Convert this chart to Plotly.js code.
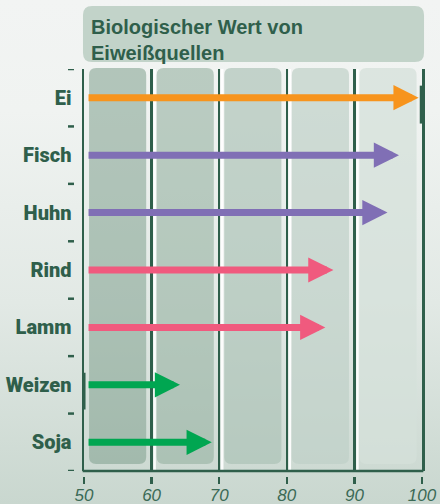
<!DOCTYPE html>
<html>
<head>
<meta charset="utf-8">
<script src="https://cdn.plot.ly/plotly-3.0.1.min.js"></script>
<style>
  html, body { margin: 0; padding: 0; }
  #chart {
    width: 440px; height: 504px;
    background: linear-gradient(to bottom, #f2f4f3 0%, #f0f3f1 22%, #e2e9e5 60%, #c9d7cf 100%);
  }
</style>
</head>
<body>
<div id="chart"></div>
<script>
// ---- data ----
const categories = ['Ei', 'Fisch', 'Huhn', 'Rind', 'Lamm', 'Weizen', 'Soja'];
const values = [99.5, 96.6, 94.9, 86.9, 85.7, 64.2, 68.9];
const arrowColors = ['#f7941d', '#806fb5', '#806fb5', '#f05a7e', '#f05a7e', '#00a651', '#00a651'];
const xTicks = [50, 60, 70, 80, 90, 100];
const xTickLabels = ['50', '60', '70', '80', '90', '100'];
const arrowStart = 50.45;
const titleText = 'Biologischer Wert von<br>Eiweißquellen';

// ---- styles ----
const dark = '#2f5f4b';
const plotH = 407, plotW = 338;
const d = 5 / plotH; // y domain bottom (gap for ticks)

const shapes = [];

// title box (rounded)
(function () {
  const x0 = -0.003, x1 = 1.006, y0 = 1.0172, y1 = 1.1548;
  const rx = 9 / plotW, ry = 9 / plotH;
  shapes.push({
    type: 'path', xref: 'paper', yref: 'paper', layer: 'below',
    path: `M${x0 + rx},${y1} L${x1 - rx},${y1} Q${x1},${y1} ${x1},${y1 - ry} L${x1},${y0 + ry} Q${x1},${y0} ${x1 - rx},${y0} L${x0 + rx},${y0} Q${x0},${y0} ${x0},${y0 + ry} L${x0},${y1 - ry} Q${x0},${y1} ${x0 + rx},${y1} Z`,
    fillcolor: '#c2d3c9', line: { width: 0 }
  });
})();

// column backgrounds (rounded)
const c1 = [128, 161, 142, 0.56], c5 = [212, 224, 218, 0.75];
for (let i = 0; i < 5; i++) {
  const t = i / 4;
  const c = c1.map((v, k) => k < 3 ? Math.round(v + (c5[k] - v) * t) : (v + (c5[k] - v) * t).toFixed(3));
  const v = xTicks[i];
  const x0 = v + 0.75, x1 = v + 9.2;
  const y0 = (476 - 464) / plotH, y1 = (476 - 68) / plotH;
  const rx = 7 / 6.76, ry = 7 / plotH;
  shapes.push({
    type: 'path', xref: 'x', yref: 'paper', layer: 'below',
    path: `M${x0 + rx},${y1} L${x1 - rx},${y1} Q${x1},${y1} ${x1},${y1 - ry} L${x1},${y0 + ry} Q${x1},${y0} ${x1 - rx},${y0} L${x0 + rx},${y0} Q${x0},${y0} ${x0},${y0 + ry} L${x0},${y1 - ry} Q${x0},${y1} ${x0 + rx},${y1} Z`,
    fillcolor: `rgba(${c[0]},${c[1]},${c[2]},${c[3]})`, line: { width: 0 }
  });
}
// white stripes right of grid lines
for (let i = 1; i < 5; i++) {
  shapes.push({
    type: 'line', xref: 'x', yref: 'paper', layer: 'below',
    x0: xTicks[i] + 0.45, x1: xTicks[i] + 0.45, y0: d, y1: 1,
    line: { color: 'rgba(255,255,255,0.9)', width: 2.5 }
  });
}
// bottom line
shapes.push({
  type: 'line', xref: 'paper', yref: 'paper', layer: 'above',
  x0: -0.004, x1: 1.004, y0: d, y1: d, line: { color: dark, width: 2.5 }
});
// left category tick marks
for (let k = 0; k <= categories.length; k++) {
  shapes.push({
    type: 'line', xref: 'paper', yref: 'y', layer: 'above',
    x0: -0.0473, x1: -0.0296, y0: k - 0.5, y1: k - 0.5,
    line: { color: dark, width: 2.5 }
  });
}
// thick accents on the frame
shapes.push({ type: 'line', xref: 'x', yref: 'y', layer: 'above', x0: 100, x1: 100, y0: -0.21, y1: 0.45, line: { color: dark, width: 4.5 } });
shapes.push({ type: 'line', xref: 'x', yref: 'y', layer: 'above', x0: 49.93, x1: 49.93, y0: 4.79, y1: 5.43, line: { color: dark, width: 4 } });

// arrows
const annotations = categories.map((cat, i) => ({
  x: values[i], y: cat, ax: arrowStart, ay: cat, axref: 'x', ayref: 'y', xref: 'x', yref: 'y',
  text: '', showarrow: true, arrowhead: 2, arrowsize: 0.72, arrowwidth: 7,
  arrowcolor: arrowColors[i], standoff: 0
}));

const data = [{
  type: 'scatter', x: values, y: categories, mode: 'markers',
  marker: { opacity: 0 }, hoverinfo: 'skip', showlegend: false
}];

const layout = {
  width: 440, height: 504,
  margin: { l: 84, r: 18, t: 69, b: 28 },
  paper_bgcolor: 'rgba(0,0,0,0)',
  plot_bgcolor: 'rgba(0,0,0,0)',
  title: {
    text: titleText, xref: 'container', yref: 'container',
    x: 91 / 440, xanchor: 'left', y: 1 - 34 / 504, yanchor: 'top',
    font: { family: 'Liberation Sans, Arial, sans-serif', size: 20, weight: 'bold', color: dark }
  },
  xaxis: {
    range: [50, 100], tickvals: xTicks, ticktext: xTickLabels,
    anchor: 'free', position: 0,
    showline: false, zeroline: false,
    ticks: 'outside', ticklen: 7, tickwidth: 2.5, tickcolor: dark,
    ticklabelstandoff: -3,
    showgrid: true, gridcolor: dark, gridwidth: 2.5,
    tickfont: { family: 'Liberation Sans, Arial, sans-serif', size: 17, style: 'italic', color: '#3b6a56' },
    fixedrange: true
  },
  yaxis: {
    type: 'category', categoryorder: 'array', categoryarray: categories,
    range: [categories.length - 0.5, -0.5], domain: [d, 1],
    showgrid: false, zeroline: false, ticks: '',
    showline: true, mirror: true, linecolor: dark, linewidth: 2.5,
    ticklabelstandoff: 6,
    tickfont: { family: 'Roboto, sans-serif', size: 20, weight: 900, color: dark },
    fixedrange: true
  },
  shapes: shapes,
  annotations: annotations,
  showlegend: false
};

Plotly.newPlot('chart', data, layout, { displayModeBar: false, staticPlot: true });
</script>
</body>
</html>
